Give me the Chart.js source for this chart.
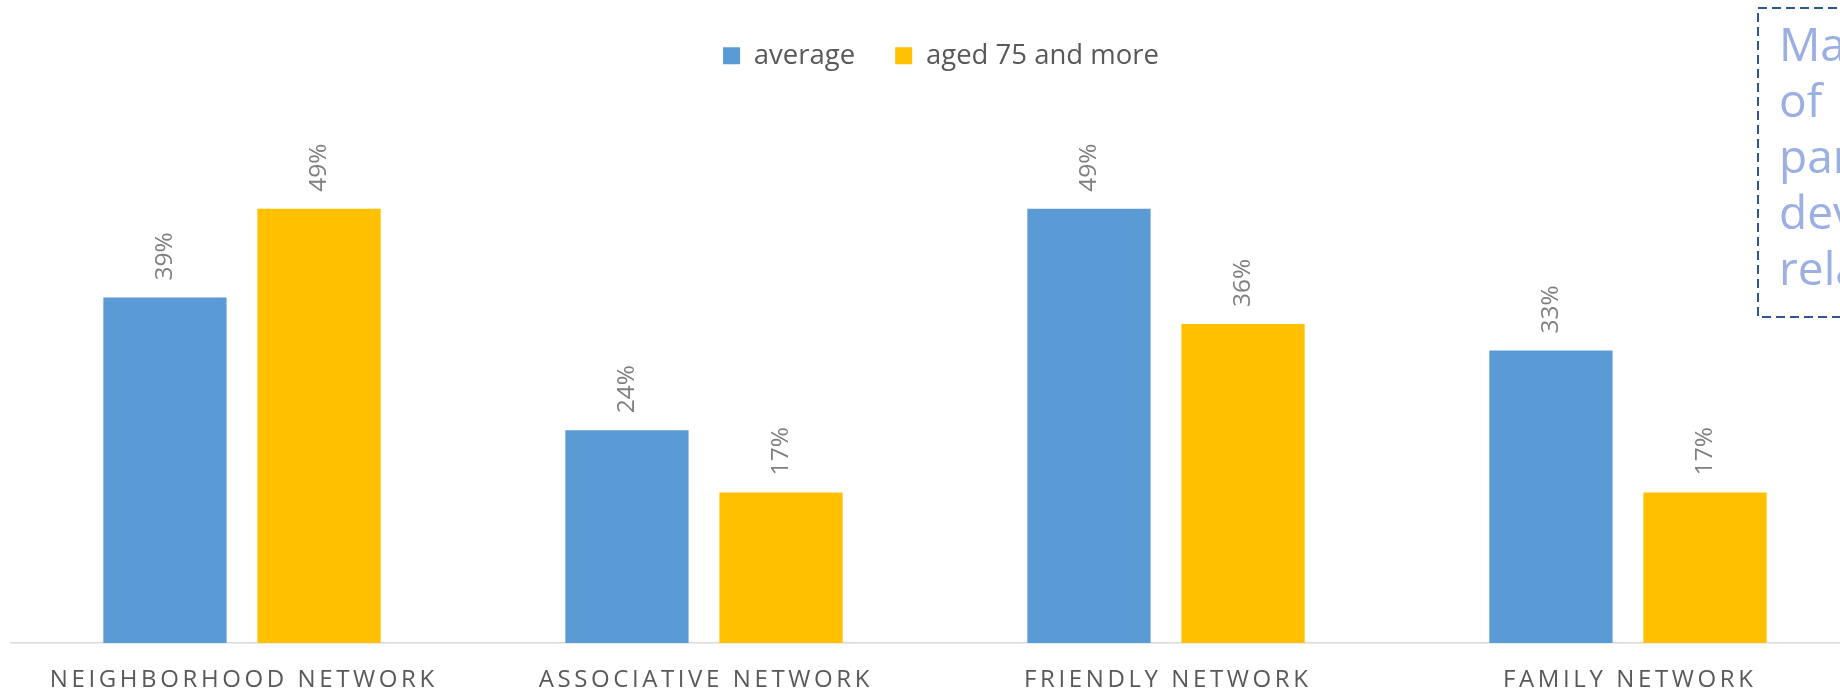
<!DOCTYPE html>
<html>
<head>
<meta charset="utf-8">
<script src="https://cdn.jsdelivr.net/npm/chart.js@4"></script>
<style>
  html, body { margin: 0; padding: 0; background: #fff; overflow: hidden; }
  #wrap { width: 1880px; height: 691px; }
</style>
</head>
<body>
<div id="wrap"><canvas id="chart" width="1880" height="691"></canvas></div>
<script>
// Datos del gráfico
const categorias = ['NEIGHBORHOOD NETWORK', 'ASSOCIATIVE NETWORK', 'FRIENDLY NETWORK', 'FAMILY NETWORK'];
const promedio = [39, 24, 49, 33];
const mayores75 = [49, 17, 36, 17];
const series = ['average', 'aged 75 and more'];
// texto del recuadro (cortado por el borde derecho)
const notaLineas = ['Ma', 'of', 'par', 'dev', 'rela'];

const fuente = "'Open Sans', 'DejaVu Sans', sans-serif";

// Etiquetas giradas encima de cada barra
const etiquetasBarras = {
    id: 'etiquetasBarras',
    afterDatasetsDraw(chart) {
        const ctx = chart.ctx;
        ctx.save();
        ctx.fillStyle = '#7f7f7f';
        ctx.font = '24.5px ' + fuente;
        chart.data.datasets.forEach((ds, i) => {
            chart.getDatasetMeta(i).data.forEach((bar, j) => {
                ctx.save();
                ctx.translate(bar.x, bar.y - 17);
                ctx.rotate(-Math.PI / 2);
                ctx.textAlign = 'left';
                ctx.textBaseline = 'middle';
                ctx.fillText(ds.data[j] + '%', 0, 0);
                ctx.restore();
            });
        });
        ctx.restore();
    }
};

// Etiquetas del eje x con espaciado entre letras + recuadro de nota
const extras = {
    id: 'extras',
    afterLayout(chart) {
        // mover un poco la leyenda a la derecha
        chart.legend.left += 6;
        chart.legend.right += 6;
    },
    afterDraw(chart) {
        const ctx = chart.ctx;
        const xScale = chart.scales.x;
        ctx.save();
        ctx.fillStyle = '#595959';
        ctx.font = '24px ' + fuente;
        ctx.letterSpacing = '3.6px';
        ctx.textAlign = 'center';
        ctx.textBaseline = 'alphabetic';
        categorias.forEach((c, i) => {
            ctx.fillText(c, xScale.getPixelForTick(i) + 1.8, 687);
        });
        ctx.restore();

        // recuadro punteado
        ctx.save();
        ctx.strokeStyle = '#2f5597';
        ctx.lineWidth = 2;
        ctx.setLineDash([9, 5]);
        ctx.strokeRect(1758, 8, 300, 309);
        ctx.setLineDash([]);
        ctx.fillStyle = '#9bafe3';
        ctx.font = '46px ' + fuente;
        ctx.textAlign = 'left';
        ctx.textBaseline = 'alphabetic';
        notaLineas.forEach((t, i) => {
            ctx.fillText(t, 1779, 61 + i * 56);
        });
        ctx.restore();
    }
};

const ctx = document.getElementById('chart').getContext('2d');
new Chart(ctx, {
    type: 'bar',
    data: {
        labels: categorias,
        datasets: [{
            label: series[0],
            data: promedio,
            backgroundColor: '#5b9bd5',
            borderWidth: 0
        }, {
            label: series[1],
            data: mayores75,
            backgroundColor: '#ffc000',
            borderWidth: 0
        }]
    },
    options: {
        responsive: false,
        animation: false,
        categoryPercentage: 0.667,
        barPercentage: 0.8,
        layout: {
            padding: { left: 11, right: 21, top: 2, bottom: 40 }
        },
        plugins: {
            legend: {
                position: 'top',
                labels: {
                    boxWidth: 17,
                    boxHeight: 17,
                    padding: 40,
                    color: '#595959',
                    font: { family: fuente, size: 27.5 }
                }
            },
            tooltip: { enabled: false }
        },
        scales: {
            x: {
                grid: { display: false },
                ticks: { display: false },
                border: { display: true, color: '#d9d9d9', width: 1.5 }
            },
            y: {
                display: false,
                min: 0,
                max: 63.6
            }
        }
    },
    plugins: [etiquetasBarras, extras]
});
</script>
</body>
</html>
